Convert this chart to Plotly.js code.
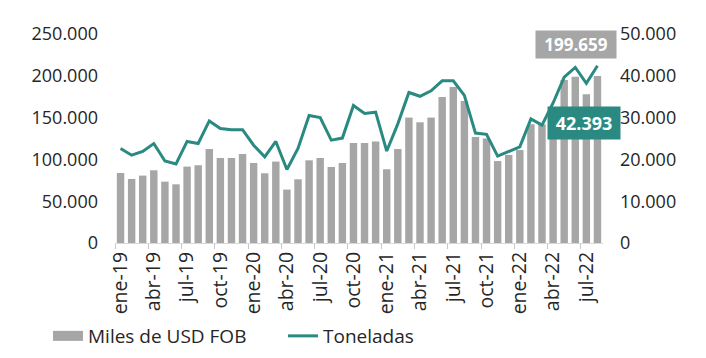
<!DOCTYPE html>
<html>
<head>
<meta charset="utf-8">
<script src="https://cdn.plot.ly/plotly-3.0.1.min.js"></script>
<style>html,body{margin:0;padding:0;background:#fff;}#chart{width:706px;height:358px;}</style>
</head>
<body>
<div id="chart"></div>
<script>
const months = [
  "ene-19","feb-19","mar-19","abr-19","may-19","jun-19","jul-19","ago-19","sep-19","oct-19","nov-19","dic-19",
  "ene-20","feb-20","mar-20","abr-20","may-20","jun-20","jul-20","ago-20","sep-20","oct-20","nov-20","dic-20",
  "ene-21","feb-21","mar-21","abr-21","may-21","jun-21","jul-21","ago-21","sep-21","oct-21","nov-21","dic-21",
  "ene-22","feb-22","mar-22","abr-22","may-22","jun-22","jul-22","ago-22"
];
const milesUSD = [
  83700, 76600, 80600, 87000, 73400, 70200, 91400, 93000, 112400, 101700, 101700, 106500,
  95700, 83400, 97400, 63900, 76200, 98900, 101700, 90900, 95700, 119600, 119600, 121300,
  88200, 112400, 150000, 144400, 150000, 174600, 186600, 169900, 126800, 124900, 98000, 105300,
  111200, 142000, 142000, 155000, 195000, 199000, 177900, 199659
];
const toneladas = [
  22600, 21000, 21900, 23800, 19600, 18900, 24300, 23800, 29200, 27400, 27100, 27100,
  23400, 20600, 24300, 17600, 22600, 30500, 30000, 24600, 25100, 32900, 31000, 31300,
  22000, 28500, 36000, 35100, 36400, 38800, 38800, 35300, 26300, 26000, 20800, 21900,
  23000, 29700, 28200, 33500, 39700, 42000, 38200, 42393
];
const labelEvery = 3;
const tickLabels = months.filter((m, i) => i % labelEvery === 0);
const boundaryTicks = months.map((m, i) => i - 0.5).filter((v, i) => i % labelEvery === 0);

const fmt = v => Math.round(v).toString().replace(/\B(?=(\d{3})+(?!\d))/g, ".");

const gray = "#a6a6a6";
const teal = "#2a8a82";
const txt = "#262626";
const font = "Open Sans, Noto Sans, sans-serif";

const traces = [
  {type: "bar", x: months, y: milesUSD, marker: {color: gray}, name: "Miles de USD FOB",
   showlegend: false, xaxis: "x", yaxis: "y", hoverinfo: "skip"},
  {type: "scatter", mode: "lines", x: [null], y: [null], name: "Miles de USD FOB",
   line: {color: gray, width: 10}, xaxis: "x", yaxis: "y", hoverinfo: "skip"},
  {type: "scatter", mode: "lines", x: months, y: toneladas, name: "Toneladas",
   line: {color: teal, width: 3}, xaxis: "x", yaxis: "y2", hoverinfo: "skip"},
  {type: "scatter", mode: "lines", x: boundaryTicks, y: boundaryTicks.map(() => null),
   showlegend: false, xaxis: "x2", yaxis: "y", hoverinfo: "skip"}
];

const layout = {
  width: 706, height: 358,
  margin: {l: 115, r: 103, t: 34, b: 115},
  paper_bgcolor: "#fff", plot_bgcolor: "#fff",
  separators: ",.",
  font: {family: font, color: txt, size: 18},
  bargap: 0.33,
  showlegend: true,
  xaxis: {
    type: "category", categoryorder: "array", categoryarray: months,
    range: [-0.5, months.length - 0.5],
    tickmode: "array", tickvals: tickLabels, ticktext: tickLabels,
    tickangle: -90, ticks: "", showgrid: false, zeroline: false, showline: false,
    tickfont: {family: font, size: 19.5, color: txt}, ticklabelstandoff: 4
  },
  xaxis2: {
    overlaying: "x", anchor: "y", side: "bottom",
    range: [-0.5, months.length - 0.5],
    tickmode: "array", tickvals: boundaryTicks, showticklabels: false,
    ticks: "outside", ticklen: 5, tickcolor: "#c8c8c8", tickwidth: 1,
    showline: true, linecolor: "#d9d9d9", linewidth: 1, showgrid: false, zeroline: false
  },
  yaxis: {
    range: [0, 250000], tickmode: "linear", tick0: 0, dtick: 50000, tickformat: ",d",
    showgrid: false, zeroline: false, showline: false, ticks: "",
    tickfont: {family: font, size: 18, color: txt}, ticklabelstandoff: 16
  },
  yaxis2: {
    overlaying: "y", side: "right", anchor: "x",
    range: [0, 50000], tickmode: "linear", tick0: 0, dtick: 10000, tickformat: ",d",
    showgrid: false, zeroline: false, showline: false, ticks: "",
    tickfont: {family: font, size: 18, color: txt}, ticklabelstandoff: 16
  },
  legend: {
    orientation: "h", xref: "container", yref: "container",
    x: 48 / 706, xanchor: "left", y: 1 - 336 / 358, yanchor: "middle",
    font: {family: font, size: 19, color: txt}, bgcolor: "rgba(0,0,0,0)",
    itemwidth: 30, tracegroupgap: 0, entrywidth: 190, entrywidthmode: "pixels"
  },
  annotations: [
    {xref: "paper", yref: "paper", x: (576 - 115) / 488, y: (243 - 44.5) / 209,
     xanchor: "center", yanchor: "middle", showarrow: false,
     text: "<b>" + fmt(milesUSD[milesUSD.length - 1]) + "</b>",
     font: {family: font, size: 17, color: "#fff"}, bgcolor: gray, width: 78, height: 25},
    {xref: "paper", yref: "paper", x: (584 - 115) / 488, y: (243 - 123) / 209,
     xanchor: "center", yanchor: "middle", showarrow: false,
     text: "<b>" + fmt(toneladas[toneladas.length - 1]) + "</b>",
     font: {family: font, size: 18, color: "#fff"}, bgcolor: teal, width: 70, height: 30}
  ]
};

Plotly.newPlot("chart", traces, layout, {displayModeBar: false, staticPlot: true});
</script>
</body>
</html>
